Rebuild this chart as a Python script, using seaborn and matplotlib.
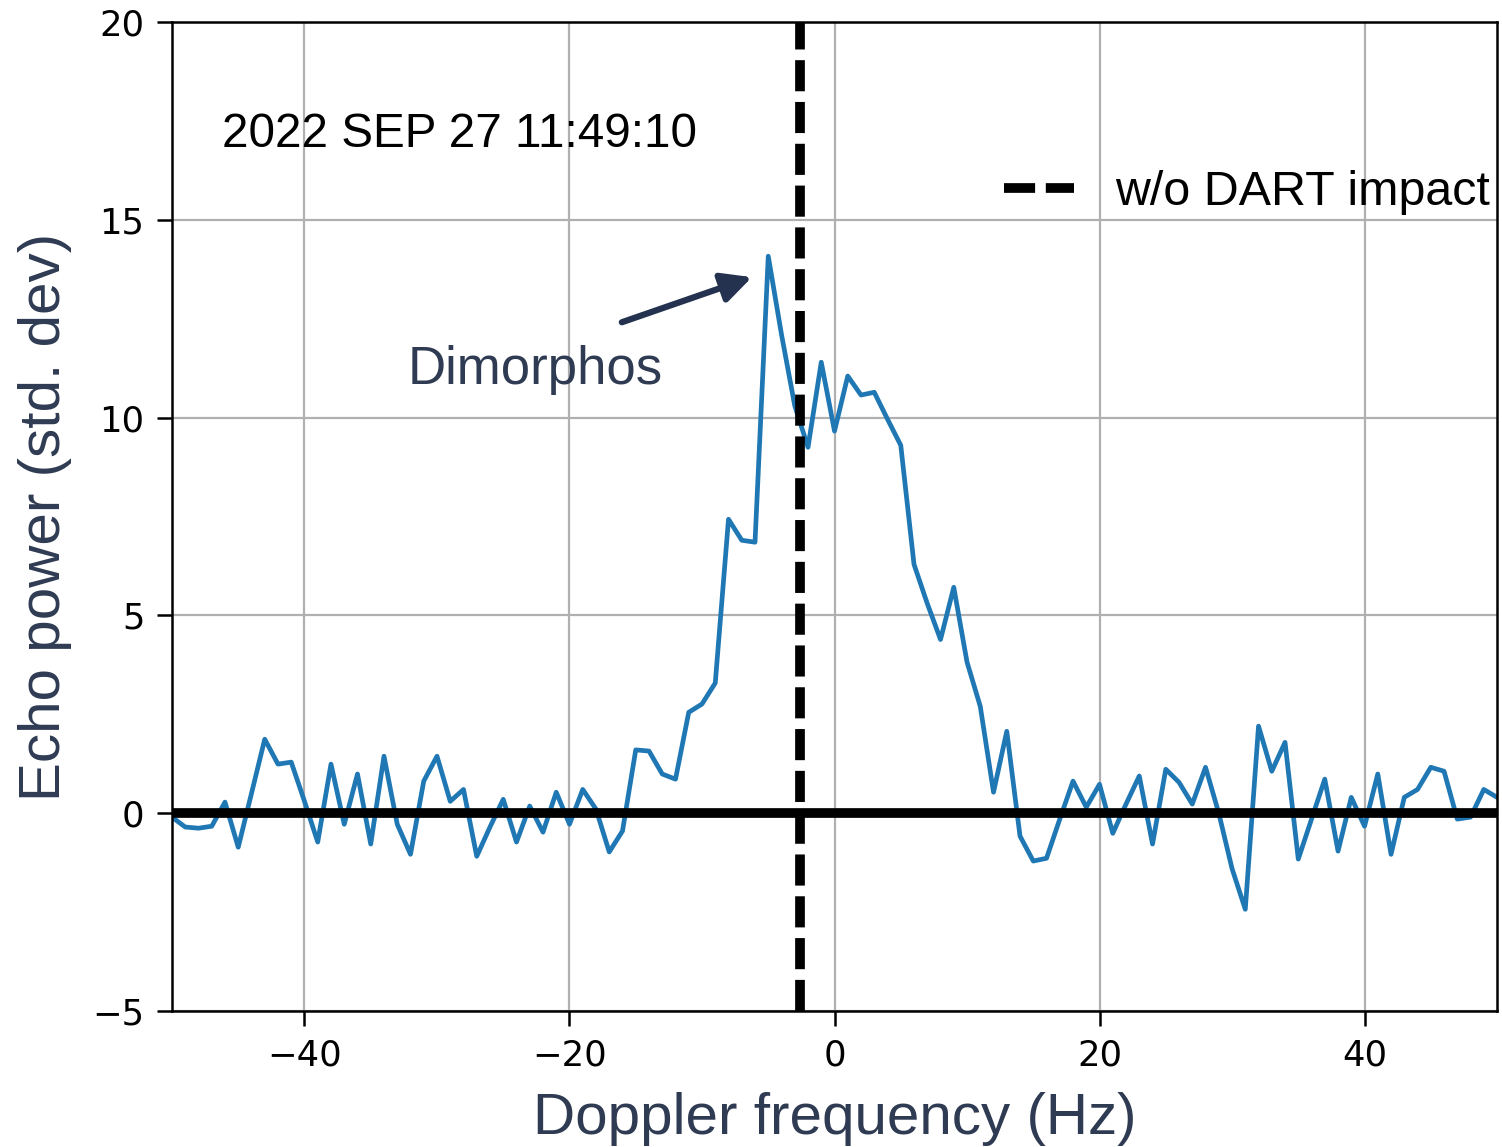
import numpy as np
import pandas as pd
import seaborn as sns
import matplotlib.pyplot as plt

# ── Data ─────────────────────────────────────────────────────────────────────
freq = np.arange(-50, 51)  # Doppler bins (Hz)
power = [
    -0.10, -0.35, -0.38, -0.33, 0.28, -0.86, 0.50, 1.87, 1.24, 1.29,   # -50 .. -41
    0.30, -0.73, 1.24, -0.28, 0.99, -0.78, 1.44, -0.28, -1.04, 0.81,   # -40 .. -31
    1.44, 0.30, 0.60, -1.09, -0.35, 0.35, -0.73, 0.18, -0.48, 0.53,    # -30 .. -21
    -0.28, 0.60, 0.10, -0.98, -0.45, 1.60, 1.57, 0.99, 0.86, 2.55,     # -20 .. -11
    2.76, 3.29, 7.43, 6.90, 6.85, 14.08, 12.10, 10.30, 9.25, 11.40,    # -10 .. -1
    9.66, 11.05, 10.57, 10.64, 9.96, 9.30, 6.29, 5.30, 4.39, 5.71,     # 0 .. 9
    3.82, 2.70, 0.53, 2.07, -0.58, -1.21, -1.14, -0.15, 0.81, 0.15,    # 10 .. 19
    0.73, -0.51, 0.23, 0.94, -0.78, 1.11, 0.78, 0.23, 1.16, 0.00,      # 20 .. 29
    -1.40, -2.43, 2.20, 1.06, 1.79, -1.16, -0.15, 0.86, -0.96, 0.40,   # 30 .. 39
    -0.33, 0.99, -1.04, 0.40, 0.60, 1.16, 1.06, -0.15, -0.10, 0.60,    # 40 .. 49
    0.40,                                                               # 50
]
impact_freq = -2.6          # expected Doppler without DART impact
timestamp = "2022 SEP 27 11:49:10"
xticks = [-40, -20, 0, 20, 40]
yticks = [-5, 0, 5, 10, 15, 20]

df = pd.DataFrame({"freq": freq, "power": power})

# ── Style ────────────────────────────────────────────────────────────────────
sns.set_style("ticks")
plt.rcParams["font.family"] = ["Liberation Sans", "DejaVu Sans"]
SLATE = "#2f3b52"
ARROW = "#243250"

fig = plt.figure(figsize=(15.02, 11.47), dpi=100)
ax = fig.add_axes([0.1145, 0.1186, 0.8822, 0.8622])

ax.grid(True, color="#b0b0b0", lw=1.6, zorder=0)
ax.set_axisbelow(True)

sns.lineplot(data=df, x="freq", y="power", color="#1f77b4", lw=3.4, ax=ax, zorder=2)
ax.axhline(0, color="black", lw=7, zorder=3)
ax.axvline(impact_freq, color="black", lw=7, dashes=(3.2, 1.1),
           label="w/o DART impact", zorder=4)

ax.set_xlim(-50, 50)
ax.set_ylim(-5, 20)
ax.set_xticks(xticks)
ax.set_yticks(yticks)

for s in ax.spines.values():
    s.set_color("black")
    s.set_linewidth(1.8)
ax.tick_params(length=10.8, width=1.8, pad=9, labelsize=25.5, colors="black",
               labelfontfamily="DejaVu Sans")

ax.set_xlabel("Doppler frequency (Hz)", fontsize=42, color=SLATE, labelpad=14)
ax.set_ylabel("Echo power (std. dev)", fontsize=42, color=SLATE, labelpad=15)

# ── Annotations ──────────────────────────────────────────────────────────────
ax.text(-46.2, 16.84, timestamp, fontsize=34.3, color="black", ha="left", va="baseline")
ax.text(-32.2, 10.84, "Dimorphos", fontsize=38, color=SLATE, ha="left", va="baseline")
ax.annotate("", xy=(-6.23, 13.55), xytext=(-16.05, 12.41),
            arrowprops=dict(arrowstyle="-|>", color=ARROW, lw=4.5,
                            mutation_scale=45, shrinkA=0, shrinkB=0), zorder=5)

leg = ax.legend(loc="upper right", bbox_to_anchor=(0.9947, 0.850), frameon=False,
                fontsize=34.8, handlelength=1.45, handletextpad=0.85,
                borderpad=0, borderaxespad=0)
for t in leg.get_texts():
    t.set_color("black")

fig.savefig("out.png", dpi=100)
print("Saved: out.png ✓")
